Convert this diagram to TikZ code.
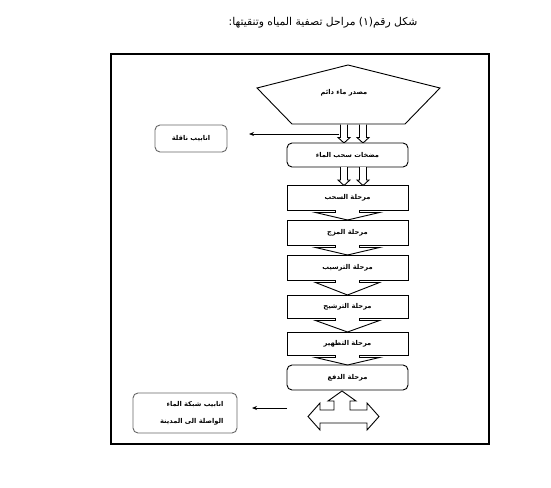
\documentclass[tikz,border=0pt]{standalone}
\usepackage{fontspec}
\usetikzlibrary{arrows.meta}
\TeXXeTstate=1
\newfontfamily\arabicfont[Script=Arabic]{DejaVu Sans}
\tikzset{
  lbl/.style={font=\arabicfont\bfseries\fontsize{6.7}{8}\selectfont},
  stagebox/.style={draw=black, line width=0.9pt, fill=white, minimum width=121pt, minimum height=25pt, inner sep=0pt, lbl},
  sidebox/.style={draw=black!60, line width=0.9pt, rounded corners=5pt, fill=white, inner sep=0pt, lbl},
  conn/.style={line width=0.8pt, -{Stealth[length=5pt,width=4pt]}},
  blockarrow/.style={draw=black, line width=0.9pt, fill=white},
  hollowdown/.pic={\draw[blockarrow] (-3.5,0) -- (-3.5,13) -- (-6,13) -- (0,18.5) -- (6,13) -- (3.5,13) -- (3.5,0);},
  chevron/.pic={\draw[blockarrow] (-12,0) -- (-12,2.5) -- (-32,2.5) -- (0,\chevlen) -- (32,2.5) -- (12,2.5) -- (12,0);}
}
\def\chevlen{10}
\begin{document}
\begin{tikzpicture}[x=1pt,y=-1pt]
\useasboundingbox (0,0) rectangle (551,487);
% title
\node (title) at (323,23) {\arabicfont\fontsize{10.8}{12}\selectfont\beginR شكل رقم(١) مراحل تصفية المياه وتنقيتها:\endR};
% frame
\draw[line width=2.2pt] (111,54) rectangle (489,444);
% stages
\node[stagebox] (s1) at (347.5,197.5) {\beginR مرحلة السحب\endR};
\node[stagebox] (s2) at (347.5,232.5) {\beginR مرحلة المزج\endR};
\node[stagebox] (s3) at (347.5,267.5) {\beginR مرحلة الترسيب\endR};
\node[stagebox, minimum height=23pt] (s4) at (347.5,306.5) {\beginR مرحلة الترشيح\endR};
\node[stagebox, minimum height=23pt] (s5) at (347.5,343.5) {\beginR مرحلة التطهير\endR};
\node[stagebox, rounded corners=5pt] (s6) at (347.5,377.5) {\beginR مرحلة الدفع\endR};
% chevron arrows between stages
\def\chevlen{10}\pic at (347.5,210) {chevron};
\def\chevlen{10}\pic at (347.5,245) {chevron};
\def\chevlen{15}\pic at (347.5,280) {chevron};
\def\chevlen{14}\pic at (347.5,318) {chevron};
\def\chevlen{10}\pic at (347.5,355) {chevron};
% source pentagon
\draw[blockarrow] (348,65) -- (440,88) -- (405,124) -- (292,124) -- (257,88) -- cycle;
\node[lbl] (src) at (344,93) {\beginR مصدر ماء دائم\endR};
% hollow arrows
\pic at (344,124.5) {hollowdown};
\pic at (363,124.5) {hollowdown};
% pumps
\node[stagebox, rounded corners=5pt, minimum height=24pt] (pump) at (347.5,155) {\beginR مضخات سحب الماء\endR};
\pic at (344,167) {hollowdown};
\pic at (363,167) {hollowdown};
% side box top
\node[sidebox, minimum width=72pt, minimum height=27pt] (pipes) at (191,138.5) {\beginR انابيب ناقلة\endR};
\coordinate (a1) at (339,134);
\coordinate (a2) at (249,134);
\draw[conn] (a1) -- (a2);
% three-way arrow
\draw[blockarrow] (342,391) -- (356,401) -- (350,401) -- (350,410) -- (367,410) -- (367,403) -- (379,416.5) -- (367,430) -- (367,423) -- (320,423) -- (320,430) -- (308,416.5) -- (320,403) -- (320,410) -- (334,410) -- (334,401) -- (328,401) -- cycle;
% bottom side box
\node[sidebox, minimum width=104pt, minimum height=40pt] (net) at (185,413) {};
\node[lbl, anchor=east] (net1) at (227,405) {\beginR انابيب شبكة الماء\endR};
\node[lbl, anchor=east] (net2) at (227,422) {\beginR الواصلة الى المدينة\endR};
\coordinate (b1) at (287,408);
\coordinate (b2) at (252,408);
\draw[conn] (b1) -- (b2);
\end{tikzpicture}
\end{document}
